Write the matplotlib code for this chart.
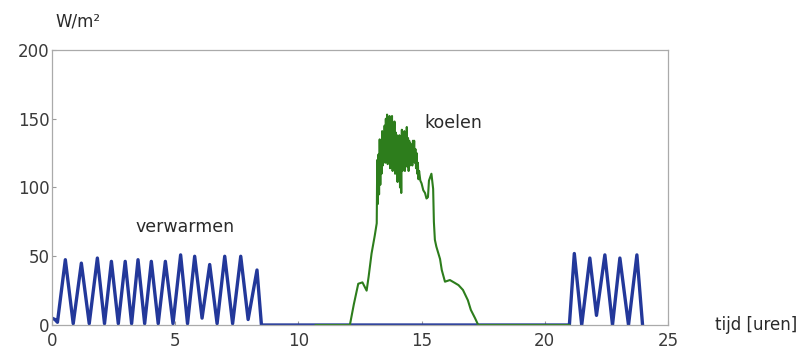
import matplotlib
matplotlib.use("Agg")
import matplotlib.pyplot as plt

# ================= DATA =================

# verwarmen (heating), W/m2 over the day
t_heat = [0.0, 0.12, 0.22, 0.54, 0.86, 1.19, 1.51, 1.84, 2.13, 2.41, 2.69,
          2.97, 3.23, 3.49, 3.76, 4.03, 4.31, 4.6, 4.91, 5.22, 5.5, 5.79,
          6.09, 6.4, 6.7, 7.01, 7.33, 7.66, 7.96, 8.32, 8.5,
          21.0, 21.2, 21.5, 21.83, 22.1, 22.44, 22.75, 23.05, 23.4, 23.74, 23.97]
q_heat = [5, 4, 2, 47.5, 1, 45, 1, 48.7, 1, 46.3, 1,
          46.3, 1, 47.5, 1, 46.3, 1, 46.3, 1, 51, 1, 50,
          5, 44, 1, 50, 1, 50, 4, 40, 0,
          0, 52, 0, 48.7, 7, 51, 0, 48.7, 0, 51, 0]

# koelen (cooling), W/m2 over the day
t_cool = [10.7, 12.09, 12.25, 12.43, 12.6, 12.77, 12.85, 12.97, 13.1, 13.18,
          13.2, 13.225, 13.25, 13.275, 13.3, 13.325, 13.35, 13.375, 13.4, 13.425,
          13.45, 13.475, 13.5, 13.525, 13.55, 13.575, 13.6, 13.625, 13.65, 13.675,
          13.7, 13.725, 13.75, 13.775, 13.8, 13.825, 13.85, 13.875, 13.9, 13.925,
          13.95, 13.975, 14.0, 14.025, 14.05, 14.075, 14.1, 14.125, 14.15, 14.175,
          14.2, 14.225, 14.25, 14.275, 14.3, 14.325, 14.35, 14.375, 14.4, 14.425,
          14.45, 14.475, 14.5, 14.525, 14.55, 14.575, 14.6, 14.625, 14.65, 14.675,
          14.7, 14.725, 14.75, 14.775, 14.8, 14.825, 14.85, 14.875, 14.9,
          14.95, 15.0, 15.07, 15.14, 15.2, 15.26, 15.3, 15.4, 15.47, 15.5,
          15.54, 15.6, 15.75, 15.82, 15.95, 16.15, 16.36, 16.5, 16.68, 16.88,
          17.0, 17.17, 17.3, 21.0]
q_cool = [0, 0, 15, 30, 31, 25, 35, 52, 65, 74,
          120, 88, 124, 95, 135, 102, 130, 110, 141, 116,
          138, 121, 145, 118, 150, 125, 153, 117, 150, 128,
          152, 114, 148, 130, 152, 112, 146, 122, 148, 110,
          140, 118, 138, 104, 136, 115, 138, 100, 132, 96,
          142, 112, 140, 118, 141, 112, 139, 120, 144, 115,
          136, 112, 134, 116, 132, 120, 130, 116, 134, 122,
          134, 118, 128, 114, 125, 110, 118, 106, 112,
          105, 103, 98, 96, 92, 93, 105, 110, 99, 75,
          62, 57, 48, 40, 31.5, 32.7, 30.5, 29, 25.5, 18,
          11, 5, 0, 0]

x_ticks = [0, 5, 10, 15, 20, 25]
y_ticks = [0, 50, 100, 150, 200]

# ================= PLOT =================

def main():
    plt.rcParams["font.family"] = "DejaVu Sans"
    fig = plt.figure(figsize=(7.98, 3.57), dpi=100)
    ax = fig.add_axes([0.0652, 0.0896, 0.7718, 0.7704])

    ax.plot(t_heat, q_heat, color="#23389a", lw=2.4, solid_joinstyle="round")
    ax.plot(t_cool, q_cool, color="#2d7d1c", lw=1.5)

    ax.set_xlim(0, 25)
    ax.set_ylim(0, 200)
    ax.set_xticks(x_ticks)
    ax.set_yticks(y_ticks)
    ax.tick_params(direction="in", length=3, width=0.8, color="#999999",
                   labelsize=12, labelcolor="#3a3a3a")
    ax.tick_params(axis="x", pad=5)
    ax.tick_params(axis="y", pad=2)
    for s in ax.spines.values():
        s.set_color("#aaaaaa")
        s.set_linewidth(0.9)

    ax.text(5.4, 71, "verwarmen", ha="center", va="center", fontsize=12.5, color="#2a2a2a")
    ax.text(16.3, 147, "koelen", ha="center", va="center", fontsize=12.5, color="#2a2a2a")
    fig.text(0.069, 0.94, "W/m²", ha="left", va="center", fontsize=12, color="#2a2a2a")
    fig.text(0.947, 0.09, "tijd [uren]", ha="center", va="center", fontsize=12, color="#2a2a2a")

    fig.savefig("out.png", dpi=100)


if __name__ == "__main__":
    main()
